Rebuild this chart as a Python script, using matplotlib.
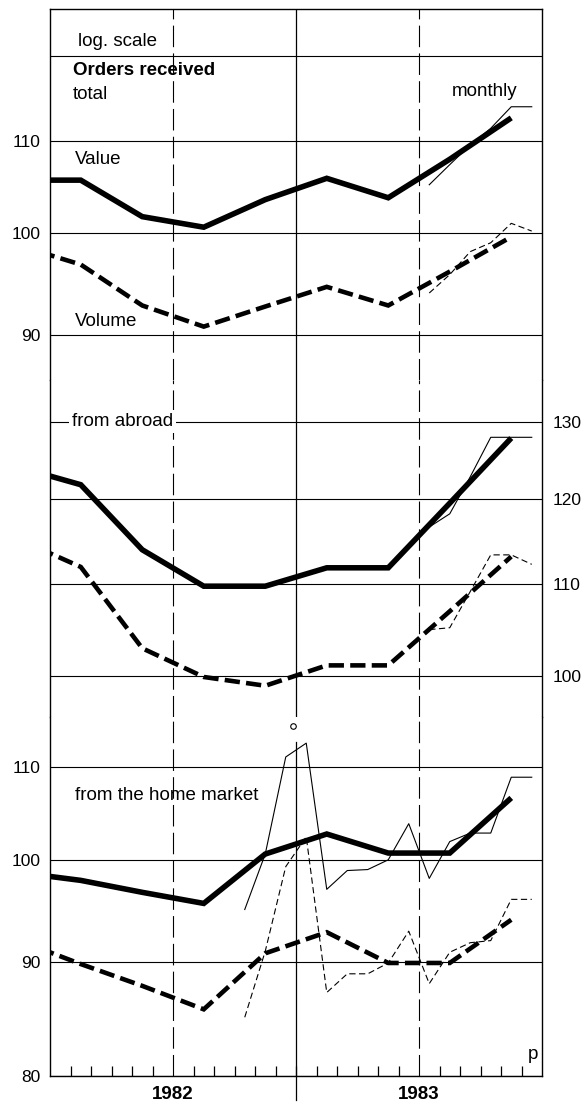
import numpy as np
import matplotlib.pyplot as plt
from matplotlib.ticker import NullLocator

plt.rcParams['font.family'] = ['Liberation Sans', 'DejaVu Sans']
plt.rcParams['lines.scale_dashes'] = False

# x in months from Jan 1982 (0) to Dec 1983 (24)
quarter_x = np.arange(-1.5, 23, 3)          # Q4 1981 ... Q4 1983 (centre of quarter)
months_83h2 = np.arange(18, 24) + 0.5        # Jul-Dec 1983
months_home = np.arange(9, 24) + 0.5         # Oct 1982 - Dec 1983

# Orders received, total
total_value_q = [105.6, 105.6, 101.7, 100.6, 103.5, 105.8, 103.7, 107.9, 112.6]
total_volume_q = [98.7, 96.8, 92.8, 90.8, 92.7, 94.6, 92.8, 96.1, 99.6]
total_value_m = [105.1, 107.3, 109.5, 111.4, 113.9, 113.9]
total_volume_m = [94.0, 95.8, 98.1, 99.0, 101.0, 100.2]

# from abroad
abroad_value_q = [124.0, 121.8, 113.9, 109.7, 109.7, 111.8, 111.8, 119.5, 127.8]
abroad_volume_q = [115.1, 111.9, 102.9, 99.9, 99.0, 101.1, 101.1, 106.9, 113.1]
abroad_value_m = [116.6, 118.2, 122.8, 127.9, 127.9, 127.9]
abroad_volume_m = [104.9, 105.1, 109.1, 113.3, 113.3, 112.2]

# from the home market
home_value_q = [98.7, 97.9, 96.7, 95.6, 100.6, 102.7, 100.7, 100.7, 106.6]
home_volume_q = [92.0, 89.8, 87.8, 85.7, 90.8, 92.8, 89.9, 89.9, 94.0]
home_value_m = [95.0, 100.6, 111.2, 112.8, 97.0, 98.9, 99.0, 100.0, 103.8,
                98.1, 101.9, 102.8, 102.8, 108.9, 108.9]
home_volume_m = [85.0, 91.0, 99.3, 102.4, 87.2, 88.9, 88.9, 89.9, 92.9,
                 88.0, 90.9, 91.8, 92.0, 96.0, 96.0]

break_x, break_val = 11.85, 114.8   # small circle: break in home market series

W, H = 585, 1102
fig = plt.figure(figsize=(W / 100, H / 100), dpi=100)
PX = 970.0  # pixels per unit of ln(index)


def make_ax(top_px, bot_px, ref_val, ref_px):
    ax = fig.add_axes([50 / W, 1 - bot_px / H, 492 / W, (bot_px - top_px) / H])
    ax.set_yscale('log')
    ax.set_ylim(ref_val * np.exp((ref_px - bot_px) / PX),
                ref_val * np.exp((ref_px - top_px) / PX))
    ax.set_xlim(0, 24)
    ax.yaxis.set_minor_locator(NullLocator())
    ax.tick_params(axis='y', length=0, labelsize=12.5, pad=7)
    ax.tick_params(axis='x', which='both', length=0, labelbottom=False)
    ax.grid(axis='y', color='k', lw=0.8)
    for s in ax.spines.values():
        s.set_linewidth(1.0)
    return ax


ax1 = make_ax(9, 380, 100, 233)
ax2 = make_ax(380, 717, 100, 676)
ax3 = make_ax(717, 1076, 100, 860)

ax1.spines['bottom'].set_visible(False)
ax2.spines['top'].set_visible(False)
ax2.spines['bottom'].set_visible(False)
ax3.spines['top'].set_visible(False)

ax1.set_yticks([90, 100, 110, 120], ['90', '100', '110', ''])
ax2.set_yticks([100, 110, 120, 130], ['100', '110', '120', '130'])
ax2.yaxis.tick_right()
ax2.tick_params(axis='y', pad=8)
ax3.set_yticks([80, 90, 100, 110], ['80', '90', '100', '110'])

# x axis of the bottom panel
ax3.set_xticks(np.arange(1, 24), minor=True)
ax3.set_xticks([6, 18], ['1982', '1983'])
ax3.tick_params(axis='x', which='minor', direction='in', length=7, width=0.9, top=False)
ax3.tick_params(axis='x', which='major', length=0, pad=7, labelbottom=True)
for lab in ax3.get_xticklabels():
    lab.set_fontweight('bold')
    lab.set_fontsize(13.5)

# vertical guides
vdash = (0, (15.5, 4.5))
for ax in (ax1, ax2, ax3):
    ax.axvline(6, color='k', lw=0.8, ls=vdash, zorder=1)
    ax.axvline(18, color='k', lw=0.8, ls=vdash, zorder=1)
ax1.axvline(12, color='k', lw=0.9, zorder=1)
ax2.axvline(12, color='k', lw=0.9, zorder=1)
ax3.axvline(12, ymin=-24 / 359, ymax=334 / 359, color='k', lw=0.9,
            zorder=1, clip_on=False)
ax3.plot(break_x, break_val, 'o', ms=4, mfc='white', mec='k', mew=0.8,
         clip_on=False, zorder=4)

thick = dict(color='k', lw=4.0, solid_joinstyle='miter', solid_capstyle='butt', zorder=3)
thickd = dict(color='k', lw=3.3, ls=(0, (11, 4.5)), dash_capstyle='butt',
              dash_joinstyle='miter', zorder=3)
thin = dict(color='k', lw=0.8, zorder=2)
thind = dict(color='k', lw=0.8, ls=(0, (4.5, 2.5)), zorder=2)

ax1.plot(quarter_x, total_value_q, **thick)
ax1.plot(quarter_x, total_volume_q, **thickd)
ax1.plot(months_83h2, total_value_m, **thin)
ax1.plot(months_83h2, total_volume_m, **thind)

ax2.plot(quarter_x, abroad_value_q, **thick)
ax2.plot(quarter_x, abroad_volume_q, **thickd)
ax2.plot(months_83h2, abroad_value_m, **thin)
ax2.plot(months_83h2, abroad_volume_m, **thind)

ax3.plot(quarter_x, home_value_q, **thick)
ax3.plot(quarter_x, home_volume_q, **thickd)
ax3.plot(months_home, home_value_m, **thin)
ax3.plot(months_home, home_volume_m, **thind)

# labels
fs = 13.5
ax1.text(1.37, 121.8, 'log. scale', fontsize=fs, va='center')
ax1.text(1.12, 118.2, 'Orders received', fontsize=fs, fontweight='bold', va='center')
ax1.text(1.12, 115.3, 'total', fontsize=fs, va='center')
ax1.text(19.6, 115.7, 'monthly', fontsize=fs, va='center')
ax1.text(1.22, 107.9, 'Value', fontsize=fs, va='center')
ax1.text(1.22, 91.3, 'Volume', fontsize=fs, va='center')
ax2.text(1.07, 130, 'from abroad', fontsize=fs, va='center', zorder=5,
         bbox=dict(fc='white', ec='none', pad=2))
ax3.text(1.22, 106.9, 'from the home market', fontsize=fs, va='center')
ax3.text(23.3, 81.8, 'p', fontsize=fs, va='center')

fig.savefig('out.png', dpi=100)
